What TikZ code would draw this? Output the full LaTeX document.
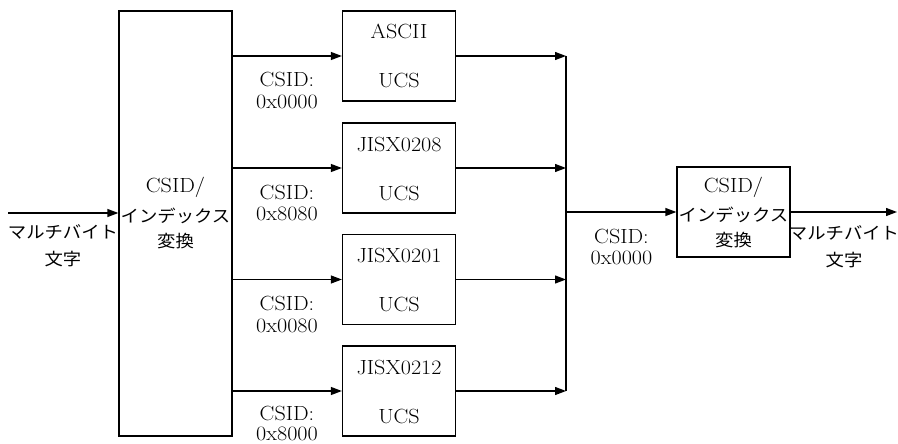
\documentclass[tikz,border=0pt]{standalone}
\usepackage{fontspec}
\usepackage{graphicx}
\newfontfamily\jp{Noto Sans CJK JP}
\usetikzlibrary{arrows.meta}
\newcommand\hs[1]{\scalebox{1.08}[1]{#1}}
\newcommand\lmf{\fontsize{20.5}{21.5}\selectfont}
\newcommand\jpf{\fontsize{17}{27.5}\selectfont\jp}
\tikzset{
  blk/.style={draw, line width=1.3pt, minimum width=113pt, inner sep=0pt},
  smallblk/.style={blk, minimum height=90pt},
  txt/.style={inner sep=0pt, anchor=base, font=\lmf},
  jptxt/.style={inner sep=0pt, anchor=base, font=\jpf},
  conn/.style={line width=1.3pt, -{Triangle[length=11pt,width=8pt]}},
  plain/.style={line width=1.3pt}
}
\begin{document}
\begin{tikzpicture}[x=1pt,y=-1pt]
\useasboundingbox (0,0) rectangle (898,444);
% main blocks
\node[blk, minimum height=425pt] (big) at (175.5,223.5) {};
\node[txt] (bigt) at (175.5,193) {\begin{tabular}[t]{@{}c@{}}\hs{CSID/}\\[7.5pt]{\jpf\hs{インデックス}}\\[4.5pt]{\jpf\hs{変換}}\end{tabular}};
\node[smallblk] (b1) at (399,56) {};
\node[smallblk] (b2) at (399,168) {};
\node[smallblk] (b3) at (399,279.5) {};
\node[smallblk] (b4) at (399,391) {};
\node[txt] (b1t) at (399,39) {\begin{tabular}[t]{@{}c@{}}\hs{ASCII}\\[27.5pt]\hs{UCS}\end{tabular}};
\node[txt] (b2t) at (399,151) {\begin{tabular}[t]{@{}c@{}}\hs{JISX0208}\\[27.5pt]\hs{UCS}\end{tabular}};
\node[txt] (b3t) at (399,262.5) {\begin{tabular}[t]{@{}c@{}}\hs{JISX0201}\\[27.5pt]\hs{UCS}\end{tabular}};
\node[txt] (b4t) at (399,374) {\begin{tabular}[t]{@{}c@{}}\hs{JISX0212}\\[27.5pt]\hs{UCS}\end{tabular}};
\node[smallblk] (rb) at (733.5,212) {};
\node[txt] (rbt) at (733.5,192) {\begin{tabular}[t]{@{}c@{}}\hs{CSID/}\\[7.5pt]{\jpf\hs{インデックス}}\\[4.5pt]{\jpf\hs{変換}}\end{tabular}};
% coordinates
\coordinate (in) at (8,213);
\coordinate (out) at (897,212);
\coordinate (m1) at (566,56);
\coordinate (m2) at (566,168);
\coordinate (m3) at (566,279.5);
\coordinate (m4) at (566,391);
\coordinate (m) at (566,212);
% connectors
\draw[conn] (in) -- (in -| big.west);
\foreach \i in {1,2,3,4}{
  \draw[conn] (big.east |- b\i.west) -- (b\i.west);
  \draw[conn] (b\i.east) -- (m\i);
}
\draw[plain] (m1) -- (m4);
\draw[conn] (m) -- (rb.west);
\draw[conn] (rb.east) -- (out);
% labels
\node[jptxt] (inl) at (63,238) {\begin{tabular}[t]{@{}c@{}}\hs{マルチバイト}\\\hs{文字}\end{tabular}};
\node[jptxt] (outl) at (844,239) {\begin{tabular}[t]{@{}c@{}}\hs{マルチバイト}\\\hs{文字}\end{tabular}};
\node[txt] (c1) at (287,87) {\begin{tabular}[t]{@{}c@{}}\hs{CSID:}\\\hs{0x0000}\end{tabular}};
\node[txt] (c2) at (287,199) {\begin{tabular}[t]{@{}c@{}}\hs{CSID:}\\\hs{0x8080}\end{tabular}};
\node[txt] (c3) at (287,310.5) {\begin{tabular}[t]{@{}c@{}}\hs{CSID:}\\\hs{0x0080}\end{tabular}};
\node[txt] (c4) at (287,420) {\begin{tabular}[t]{@{}c@{}}\hs{CSID:}\\[-1pt]\hs{0x8000}\end{tabular}};
\node[txt] (cr) at (621.5,243) {\begin{tabular}[t]{@{}c@{}}\hs{CSID:}\\\hs{0x0000}\end{tabular}};
\end{tikzpicture}
\end{document}
